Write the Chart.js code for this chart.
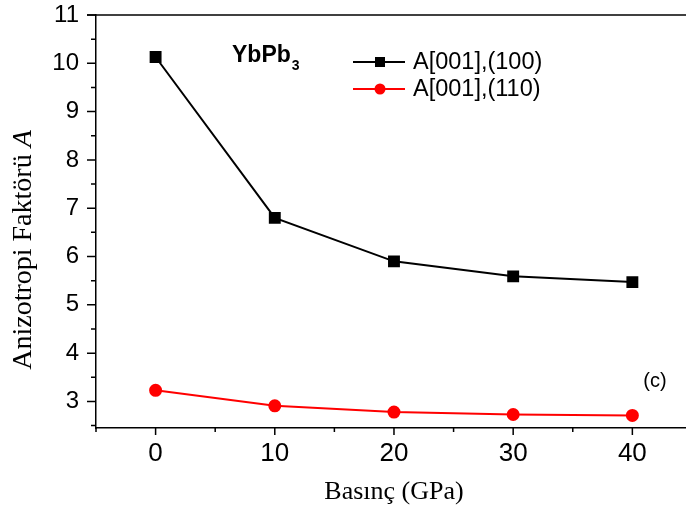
<!DOCTYPE html>
<html>
<head>
<meta charset="utf-8">
<script src="https://cdn.jsdelivr.net/npm/chart.js@4.4.0/dist/chart.umd.min.js"></script>
<style>
  html, body { margin: 0; padding: 0; background: #fff; overflow: hidden; }
</style>
</head>
<body>
<canvas id="chart" width="686" height="518"></canvas>
<script>
// values
var pressure = [0, 10, 20, 30, 40];
var a100 = [10.13, 6.8, 5.9, 5.59, 5.47];
var a110 = [3.23, 2.91, 2.78, 2.73, 2.71];
var seriesNames = ['A[001],(100)', 'A[001],(110)'];

var xMajor = [0, 10, 20, 30, 40];
var xMinor = [-5, 5, 15, 25, 35];
var yMajor = [3, 4, 5, 6, 7, 8, 9, 10, 11];
var yMinor = [2.5, 3.5, 4.5, 5.5, 6.5, 7.5, 8.5, 9.5, 10.5];

var SANS = '"Liberation Sans", Arial, sans-serif';
var SERIF = '"Liberation Serif", "Times New Roman", serif';

function toPoints(xs, ys) {
    return xs.map(function (x, i) { return {x: x, y: ys[i]}; });
}

// ticks, frame, legend and labels drawn on top
var decorations = {
    id: 'decorations',
    afterDraw: function (chart) {
        var ctx = chart.ctx;
        var area = chart.chartArea;
        var xs = chart.scales.x, ys = chart.scales.y;
        ctx.save();
        ctx.strokeStyle = '#000';
        ctx.lineWidth = 1.5;

        // top frame line
        ctx.beginPath();
        ctx.moveTo(87, area.top);
        ctx.lineTo(area.right, area.top);
        ctx.stroke();

        ctx.beginPath();
        xMajor.forEach(function (v) {
            var p = xs.getPixelForValue(v);
            ctx.moveTo(p, area.bottom); ctx.lineTo(p, area.bottom + 7);
        });
        xMinor.forEach(function (v) {
            var p = xs.getPixelForValue(v);
            ctx.moveTo(p, area.bottom); ctx.lineTo(p, area.bottom + 4);
        });
        yMajor.forEach(function (v) {
            var p = ys.getPixelForValue(v);
            ctx.moveTo(area.left, p); ctx.lineTo(area.left - 9, p);
        });
        yMinor.forEach(function (v) {
            var p = ys.getPixelForValue(v);
            ctx.moveTo(area.left, p); ctx.lineTo(area.left - 5, p);
        });
        ctx.stroke();

        // legend
        var rows = [62, 89];
        chart.data.datasets.forEach(function (ds, i) {
            var y = rows[i];
            ctx.strokeStyle = ds.borderColor;
            ctx.lineWidth = 2;
            ctx.beginPath();
            ctx.moveTo(353, y); ctx.lineTo(405, y);
            ctx.stroke();
            ctx.fillStyle = ds.backgroundColor;
            if (ds.pointStyle === 'rect') {
                ctx.fillRect(375, y - 5, 10, 10);
            } else {
                ctx.beginPath();
                ctx.arc(380, y, 5.5, 0, Math.PI * 2);
                ctx.fill();
            }
            ctx.fillStyle = '#000';
            ctx.font = '23.5px ' + SANS;
            ctx.textAlign = 'left';
            ctx.textBaseline = 'middle';
            ctx.fillText(ds.label, 413, y + 1);
        });

        // compound name
        ctx.fillStyle = '#000';
        ctx.textBaseline = 'alphabetic';
        ctx.font = 'bold 23px ' + SANS;
        ctx.fillText('YbPb', 232, 62);
        var w = ctx.measureText('YbPb').width;
        ctx.font = 'bold 14px ' + SANS;
        ctx.fillText('3', 232 + w + 1, 70);

        // panel label
        ctx.font = '20px ' + SANS;
        ctx.textAlign = 'center';
        ctx.textBaseline = 'middle';
        ctx.fillText('(c)', 655, 381);

        // x title
        ctx.font = '26px ' + SERIF;
        ctx.fillText('Basınç (GPa)', 394, 492);

        // y title with italic A
        ctx.translate(24, 250);
        ctx.rotate(-Math.PI / 2);
        var part1 = 'Anizotropi Faktörü ';
        ctx.font = '28px ' + SERIF;
        var w1 = ctx.measureText(part1).width;
        ctx.font = 'italic 28px ' + SERIF;
        var w2 = ctx.measureText('A').width;
        var start = -(w1 + w2) / 2;
        ctx.textAlign = 'left';
        ctx.font = '28px ' + SERIF;
        ctx.fillText(part1, start, 0);
        ctx.font = 'italic 28px ' + SERIF;
        ctx.fillText('A', start + w1, 0);
        ctx.restore();
    }
};

new Chart(document.getElementById('chart'), {
    type: 'line',
    data: {
        datasets: [{
            label: seriesNames[0],
            data: toPoints(pressure, a100),
            borderColor: '#000',
            backgroundColor: '#000',
            borderWidth: 2,
            pointStyle: 'rect',
            pointRadius: 7,
            pointHoverRadius: 7
        }, {
            label: seriesNames[1],
            data: toPoints(pressure, a110),
            borderColor: '#ff0000',
            backgroundColor: '#ff0000',
            borderWidth: 2,
            pointStyle: 'circle',
            pointRadius: 5.5,
            pointHoverRadius: 5.5
        }]
    },
    options: {
        responsive: false,
        animation: false,
        layout: {autoPadding: false, padding: {left: 0, top: 15, right: 0, bottom: 0}},
        plugins: {legend: {display: false}, tooltip: {enabled: false}},
        scales: {
            x: {
                type: 'linear',
                min: -5,
                max: 44.5,
                afterFit: function (scale) {
                    scale.height = 90;
                    scale.paddingLeft = 0;
                    scale.paddingRight = 0;
                },
                afterBuildTicks: function (scale) {
                    scale.ticks = xMajor.map(function (v) { return {value: v}; });
                },
                grid: {display: true, drawOnChartArea: false, drawTicks: true, tickLength: 7, tickColor: 'rgba(0,0,0,0)'},
                border: {display: true, color: '#000', width: 1.5},
                ticks: {color: '#000', font: {family: SANS, size: 26}, padding: 3, maxRotation: 0}
            },
            y: {
                min: 2.45,
                max: 11,
                afterFit: function (scale) {
                    scale.width = 96;
                    scale.paddingTop = 0;
                    scale.paddingBottom = 0;
                },
                afterBuildTicks: function (scale) {
                    scale.ticks = yMajor.map(function (v) { return {value: v}; });
                },
                grid: {display: true, drawOnChartArea: false, drawTicks: true, tickLength: 9, tickColor: 'rgba(0,0,0,0)'},
                border: {display: true, color: '#000', width: 1.5},
                ticks: {color: '#000', font: {family: SANS, size: 24}, padding: 8}
            }
        }
    },
    plugins: [decorations]
});
</script>
</body>
</html>
